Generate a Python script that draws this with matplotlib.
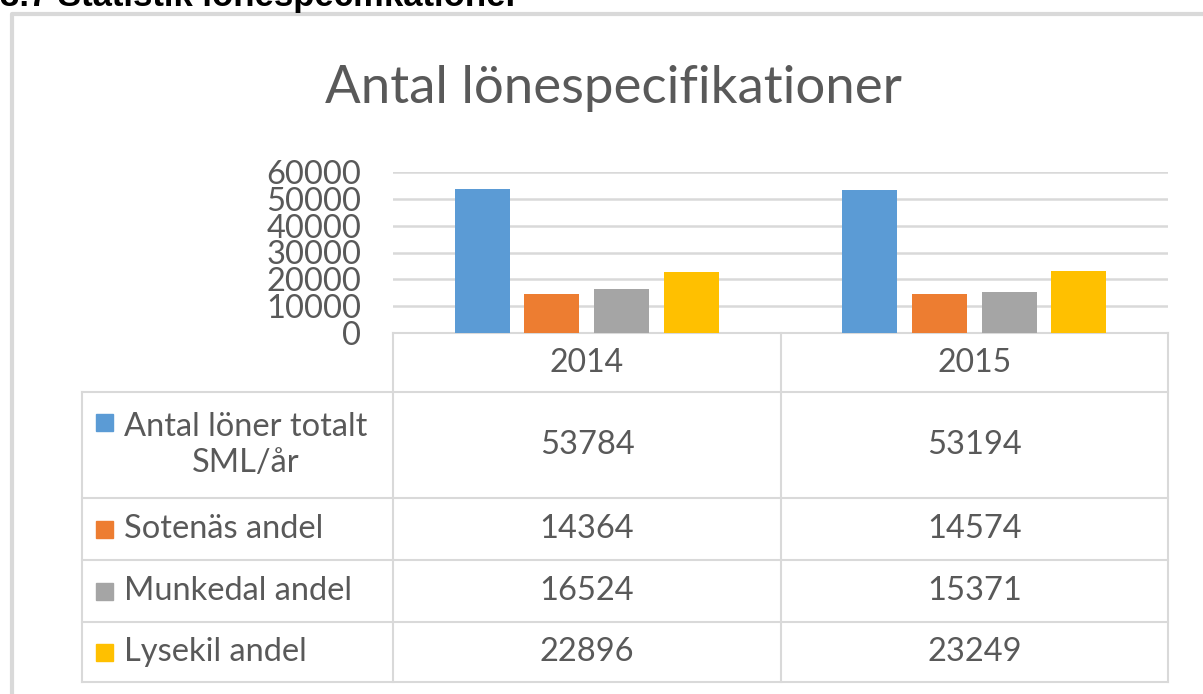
import matplotlib
matplotlib.use('Agg')
import matplotlib.pyplot as plt
import numpy as np

# Data
years = ['2014', '2015']
series = ['Antal löner totalt\nSML/år', 'Sotenäs andel', 'Munkedal andel', 'Lysekil andel']
values = [
    [53784, 53194],
    [14364, 14574],
    [16524, 15371],
    [22896, 23249],
]
colors = ['#5B9BD5', '#ED7D31', '#A5A5A5', '#FFC000']
yticks = [0, 10000, 20000, 30000, 40000, 50000, 60000]

W, H = 1203, 694
plt.rcParams['font.family'] = ['Lato', 'DejaVu Sans']
txt = '#595959'
grid = '#d9d9d9'

fig = plt.figure(figsize=(W / 100, H / 100), dpi=100)

# overlay in pixel coordinates
ov = fig.add_axes([0, 0, 1, 1])
ov.set_xlim(0, W)
ov.set_ylim(H, 0)
ov.axis('off')

# outer frame
ov.plot([12, 12, W + 5], [H + 5, 14, 14], color='#d9d9d9', lw=3)

# heading of the page, cut off at the top
ov.text(0, 6, '3.7 Statistik lönespecifikationer', fontsize=25, fontweight='bold',
        family=['Liberation Sans', 'DejaVu Sans'], color='black', va='baseline', ha='left')

# title
ov.text(613, 88, 'Antal lönespecifikationer', fontsize=38, color=txt, ha='center', va='center')

# bar axes
x_l, x_r, y_t, y_b = 393, 1168, 172, 333
ax = fig.add_axes([x_l / W, 1 - y_b / H, (x_r - x_l) / W, (y_b - y_t) / H])
ax.set_xlim(-0.5, 1.5)
ax.set_ylim(0, 60000)
x = np.arange(len(years))
step = 0.18
bw = 0.142
for i, (vals, c) in enumerate(zip(values, colors)):
    ax.bar(x + (i - 1.5) * step, vals, width=bw, color=c, zorder=3)
ax.set_yticks(yticks)
ax.yaxis.grid(True, color=grid, lw=1.8, zorder=0)
ax.set_xticks([])
for s in ax.spines.values():
    s.set_visible(False)
ax.tick_params(axis='y', length=0, pad=33, labelsize=23.5, labelcolor=txt)
for lab in ax.get_yticklabels():
    lab.set_x(14 / (x_r - x_l))
ax.set_facecolor('none')

# data table
rows = [333, 392, 498, 560, 622, 682]
cols = [393, 781, 1168]
lc = '#d9d9d9'
for c in cols:
    ov.plot([c, c], [rows[0], rows[-1]], color=lc, lw=1.5)
ov.plot([82, 82], [rows[1], rows[-1]], color=lc, lw=1.5)
for r in rows[1:]:
    ov.plot([82, cols[-1]], [r, r], color=lc, lw=1.5)
ov.plot([cols[0], cols[-1]], [rows[0], rows[0]], color=lc, lw=1.5)

cx = [(cols[0] + cols[1]) / 2, (cols[1] + cols[2]) / 2]
for j, yr in enumerate(years):
    ov.text(cx[j], (rows[0] + rows[1]) / 2, yr, fontsize=23, color=txt, ha='center', va='center')

for i, (name, vals, c) in enumerate(zip(series, values, colors)):
    ymid = (rows[i + 1] + rows[i + 2]) / 2
    if '\n' in name:
        ky = 422
        ov.text(124, ymid, name, fontsize=23.5, color=txt, ha='left', va='center',
                multialignment='center', linespacing=1.25)
    else:
        ky = ymid
        ov.text(124, ymid, name, fontsize=23.5, color=txt, ha='left', va='center')
    ov.add_patch(plt.Rectangle((96, ky - 8.5), 17, 17, color=c))
    for j in range(len(years)):
        ov.text(cx[j], ymid, str(vals[j]), fontsize=23.5, color=txt, ha='center', va='center')

fig.savefig('out.png', dpi=100)
